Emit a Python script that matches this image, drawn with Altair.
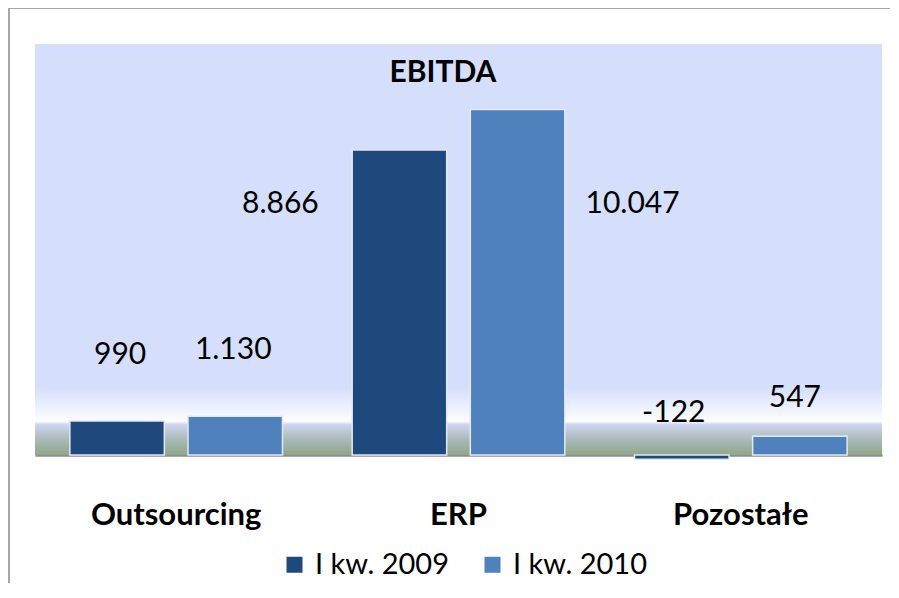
import altair as alt
import pandas as pd

categories = ["Outsourcing", "ERP", "Pozostałe"]
series = ["I kw. 2009", "I kw. 2010"]
values_2009 = [990, 8866, -122]
values_2010 = [1130, 10047, 547]

rows = []
for i, c in enumerate(categories):
    rows.append({"cat": c, "series": series[0], "v": values_2009[i], "key": f"{i}-0"})
    rows.append({"cat": c, "series": series[1], "v": values_2010[i], "key": f"{i}-1"})
df = pd.DataFrame(rows)

# label offsets (style): dx, dy in pixels relative to bar end
label_offsets = {
    "0-0": (3, -66), "0-1": (-2, -66),
    "1-0": (-119, 54), "1-1": (115, 95),
    "2-0": (-8, -46), "2-1": (-5, -38),
}

W, H = 847, 411
FONT = "Lato"

x_enc = alt.X("cat:N", sort=categories, scale=alt.Scale(paddingInner=0, paddingOuter=0),
              axis=alt.Axis(title=None, labelAngle=0, ticks=False, tickSize=0, labelPadding=45,
                            labelFont=FONT, labelFontSize=31, labelFontWeight="bold",
                            labelColor="#000000", domainColor="#8c8c8c", domainWidth=2.5,
                            grid=False))
xo_enc = alt.XOffset("series:N", sort=series, scale=alt.Scale(paddingInner=0.2, paddingOuter=0.295))
y_enc = alt.Y("v:Q", scale=alt.Scale(domain=[0, 11950], nice=False, zero=True), axis=None)

bg = alt.Chart(pd.DataFrame({"a": [0]})).mark_rect(
    fill=alt.Gradient(
        gradient="linear", x1=0, y1=0, x2=0, y2=1,
        stops=[
            alt.GradientStop(offset=0, color="#d5dffc"),
            alt.GradientStop(offset=0.835, color="#d5dffc"),
            alt.GradientStop(offset=0.918, color="#fdfdff"),
            alt.GradientStop(offset=0.926, color="#cdd5f0"),
            alt.GradientStop(offset=0.965, color="#a8b8b4"),
            alt.GradientStop(offset=1.0, color="#8fa78a"),
        ],
    )
).encode(x=alt.value(0), x2=alt.value(W), y=alt.value(0), y2=alt.value(H))

bars = alt.Chart(df).mark_bar(stroke="#e3e8f2", strokeWidth=1.5).encode(
    x=x_enc, xOffset=xo_enc, y=y_enc, y2=alt.datum(0),
    color=alt.Color("series:N", sort=series,
                    scale=alt.Scale(domain=series, range=["#1f497d", "#4f81bd"]),
                    legend=alt.Legend(title=None, orient="none", legendX=245, legendY=506,
                                      direction="horizontal", symbolType="square",
                                      symbolSize=256, symbolStrokeWidth=0,
                                      labelFont=FONT, labelFontSize=29, labelColor="#000000",
                                      labelOffset=6, columnPadding=29, padding=0)),
)

label_layers = []
for key, (dx, dy) in label_offsets.items():
    label_layers.append(
        alt.Chart(df).transform_filter(alt.datum.key == key)
        .transform_calculate(lbl="replace(replace(format(datum.v, ','), /,/g, '.'), /\u2212/g, '-')")
        .mark_text(font=FONT, fontSize=30, color="#000000", baseline="middle", align="center",
                   dx=dx, dy=dy)
        .encode(x=alt.X("cat:N", sort=categories), xOffset=alt.XOffset("series:N", sort=series),
                y=alt.Y("v:Q"), text="lbl:N")
    )

title = alt.Chart(pd.DataFrame({"t": ["EBITDA"]})).mark_text(
    font=FONT, fontSize=30, fontWeight="bold", color="#000000", baseline="middle", align="center"
).encode(x=alt.value(408), y=alt.value(29), text="t:N")

frame_left = alt.Chart(pd.DataFrame({"a": [0]})).mark_rule(color="#a6a6a6", strokeWidth=2).encode(
    x=alt.value(-26), y=alt.value(-36), y2=alt.value(700))
frame_top = alt.Chart(pd.DataFrame({"a": [0]})).mark_rule(color="#a6a6a6", strokeWidth=2).encode(
    x=alt.value(-27), x2=alt.value(1000), y=alt.value(-36))

chart = alt.layer(bg, bars, *label_layers, title, frame_left, frame_top).resolve_scale(
    x="shared", y="shared"
).properties(
    width=W, height=H,
    padding={"left": 27, "top": 36, "right": 8, "bottom": 128},
    autosize=alt.AutoSizeParams(type="none"),
    background="#ffffff",
).configure_view(stroke=None)

chart.save("out.html", embed_options={"renderer": "svg", "actions": False})
